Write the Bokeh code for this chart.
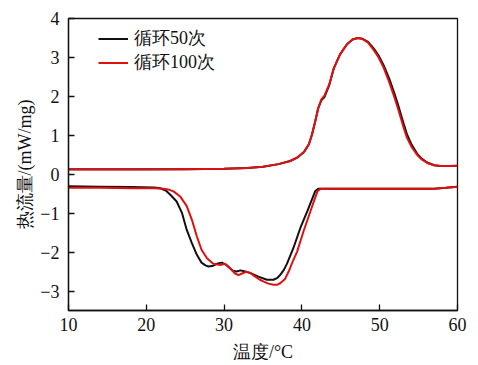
from bokeh.plotting import figure
from bokeh.models import Range1d, FixedTicker, Legend, LegendItem
from bokeh.embed import file_html
from bokeh.resources import INLINE

# heating (upper) curves
hx = [10, 15, 20, 25, 30, 33, 35, 37, 38.5, 39.5, 40.3, 40.9, 41.3, 41.7, 42.1, 42.5, 42.9, 43.5,
      44.1, 44.9, 45.8, 46.5, 47.2, 47.8, 48.5, 49.2, 49.8, 50.5, 51.2, 51.8, 52.3, 52.7, 53.1,
      53.5, 54.1, 54.8, 55.4, 56.1, 57, 57.8, 59, 60]
hy_50 = [0.13, 0.13, 0.13, 0.13, 0.14, 0.16, 0.19, 0.26, 0.34, 0.44, 0.58, 0.77, 1.02, 1.35, 1.7,
         1.9, 1.98, 2.28, 2.72, 3.08, 3.34, 3.46, 3.5, 3.48, 3.4, 3.24, 3.07, 2.8, 2.47, 2.13,
         1.82, 1.55, 1.28, 1.03, 0.76, 0.53, 0.4, 0.3, 0.23, 0.21, 0.21, 0.22]
hy_100 = [0.12, 0.12, 0.12, 0.13, 0.14, 0.16, 0.19, 0.26, 0.34, 0.44, 0.58, 0.77, 1.02, 1.35, 1.7,
          1.92, 2.02, 2.3, 2.72, 3.08, 3.34, 3.46, 3.5, 3.47, 3.38, 3.2, 3.02, 2.74, 2.38, 2.03,
          1.72, 1.45, 1.18, 0.94, 0.7, 0.5, 0.38, 0.29, 0.23, 0.21, 0.21, 0.22]

# cooling (lower) curves
cx_50 = [10, 14, 18, 21, 21.8, 22.5, 23.06, 23.9, 24.6, 25.2, 25.86, 26.5, 27.1, 27.6, 28.0,
         28.6, 29.2, 29.7, 30.2, 30.6, 31.1, 31.6, 32.1, 32.7, 33.4, 34.4, 35.5, 36.35, 36.8,
         37.2, 37.7, 38.1, 38.9, 39.8, 40.7, 41.7, 42.1, 42.4, 43, 46, 50, 54, 57, 58.5, 60]
cy_50 = [-0.31, -0.32, -0.33, -0.34, -0.36, -0.42, -0.52, -0.70, -1.0, -1.43, -1.77, -2.07,
         -2.27, -2.34, -2.37, -2.35, -2.29, -2.27, -2.32, -2.39, -2.48, -2.5, -2.47, -2.5, -2.54,
         -2.63, -2.71, -2.71, -2.67, -2.59, -2.45, -2.29, -1.9, -1.38, -0.95, -0.44, -0.37,
         -0.37, -0.37, -0.37, -0.37, -0.37, -0.37, -0.35, -0.32]
cx_100 = [10, 14, 18, 21, 22.2, 22.8, 23.5, 24.35, 25.2, 25.86, 26.5, 27.1, 27.8, 28.6, 29.5,
          30.1, 30.5, 31.0, 31.4, 31.85, 32.3, 32.9, 33.4, 34.0, 34.6, 35.1, 35.7, 36.35, 36.8,
          37.2, 37.8, 38.3, 38.8, 39.4, 40.2, 41.1, 41.6, 42.0, 42.4, 43, 46, 50, 54, 57, 58.5, 60]
cy_100 = [-0.35, -0.35, -0.36, -0.36, -0.37, -0.39, -0.44, -0.57, -0.82, -1.17, -1.6, -1.94,
          -2.16, -2.30, -2.33, -2.30, -2.36, -2.46, -2.55, -2.59, -2.55, -2.5, -2.54, -2.63,
          -2.71, -2.76, -2.81, -2.84, -2.84, -2.80, -2.70, -2.5, -2.25, -1.98, -1.47, -0.95,
          -0.66, -0.44, -0.37, -0.37, -0.37, -0.37, -0.37, -0.37, -0.35, -0.32]

x_ticks = [10, 20, 30, 40, 50, 60]
y_ticks = [-3, -2, -1, 0, 1, 2, 3, 4]
series_labels = ["循环50次", "循环100次"]

FONT = "Liberation Serif"
BLACK = "#111111"
RED = "#e01010"
FS = "18px"

p = figure(width=477, height=364, output_backend="svg", toolbar_location=None,
           x_range=Range1d(10, 60), y_range=Range1d(-3.5, 4),
           min_border_left=68, min_border_right=20, min_border_top=18, min_border_bottom=54)
p.grid.visible = False
p.outline_line_color = BLACK
p.outline_line_width = 1.3
p.background_fill_color = "white"
p.border_fill_color = "white"

r1 = p.line(hx, hy_50, line_color=BLACK, line_width=2)
r1b = p.line(cx_50, cy_50, line_color=BLACK, line_width=2)
r2 = p.line(hx, hy_100, line_color=RED, line_width=2)
r2b = p.line(cx_100, cy_100, line_color=RED, line_width=2)

for ax, ticks in ((p.xaxis[0], x_ticks), (p.yaxis[0], y_ticks)):
    ax.ticker = FixedTicker(ticks=ticks)
    ax.minor_tick_line_color = None
    ax.major_tick_in = 6
    ax.major_tick_out = 0
    ax.major_tick_line_color = BLACK
    ax.major_tick_line_width = 1.3
    ax.axis_line_color = BLACK
    ax.axis_line_width = 1.3
    ax.major_label_text_font = FONT
    ax.major_label_text_font_size = FS
    ax.major_label_text_color = BLACK
    ax.axis_label_text_font = FONT
    ax.axis_label_text_font_size = FS
    ax.axis_label_text_font_style = "normal"
    ax.axis_label_text_color = BLACK

p.xaxis.axis_label = "温度/°C"
p.yaxis.axis_label = "热流量/(mW/mg)"
p.xaxis.major_label_standoff = 7
p.xaxis.axis_label_standoff = 8
p.yaxis.major_label_standoff = 9
p.yaxis.axis_label_standoff = 2

legend = Legend(items=[LegendItem(label=series_labels[0], renderers=[r1]),
                       LegendItem(label=series_labels[1], renderers=[r2])],
                location=(30, 236), margin=0, padding=0, spacing=0,
                glyph_width=30, glyph_height=21, label_height=21, label_standoff=6,
                label_text_font=FONT, label_text_font_size=FS, label_text_color=BLACK,
                border_line_color=None, background_fill_alpha=0)
p.add_layout(legend, "center")

open("out.html", "w").write(file_html(p, INLINE))
